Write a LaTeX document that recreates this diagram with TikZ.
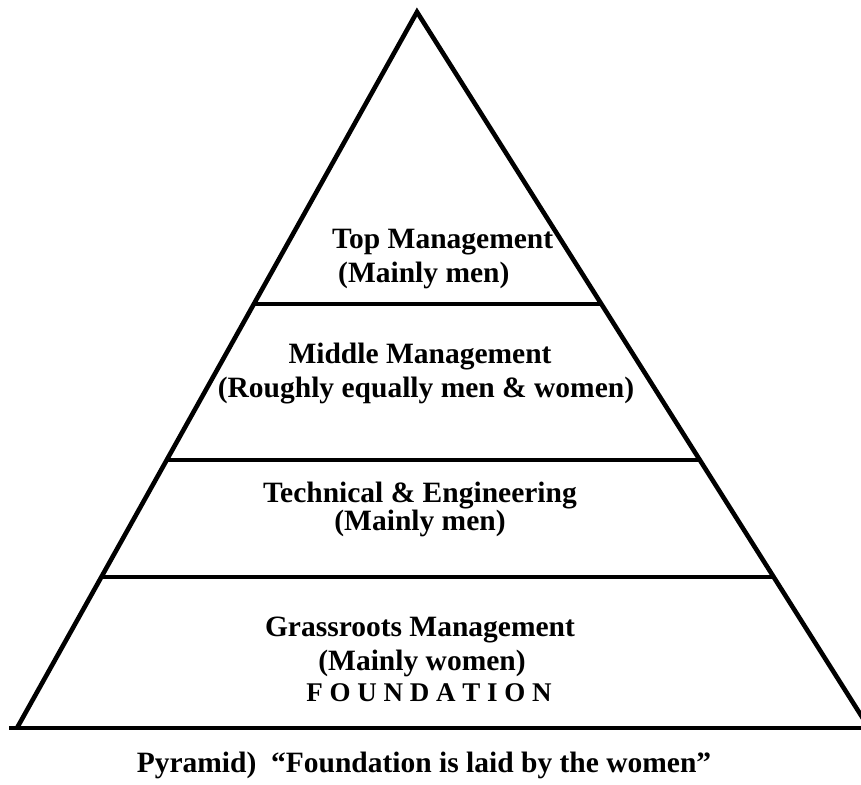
\documentclass[tikz,border=0pt]{standalone}
\usepackage{fontspec}
\setmainfont{Liberation Serif}
\usetikzlibrary{calc}
\tikzset{
  side/.style={line width=4.6pt, line join=miter, line cap=butt},
  tier/.style={line width=3.6pt, line cap=butt},
  lbl/.style={inner sep=0pt, anchor=base, font=\bfseries\fontsize{29.5}{34}\selectfont},
  lblw/.style={inner sep=0pt, anchor=base west, font=\bfseries\fontsize{29.5}{34}\selectfont},
}
\begin{document}
\begin{tikzpicture}[x=1pt,y=-1pt]
\useasboundingbox (0,0) rectangle (861,784);
\clip (0,0) rectangle (861,784);
\fill[white] (0,0) rectangle (861,784);
\coordinate (A) at (417,12);
\coordinate (BL) at (17,728);
\coordinate (BR) at (869,728);
\coordinate (B0) at (9,728);
\coordinate (B1) at (861,728);
% sides and base
\draw[side] (BL) -- (A) -- (BR);
\draw[tier] (B0) -- (B1);
% tier lines
\coordinate (L1) at ($(A)!0.4078!(BL)$);
\coordinate (R1) at ($(A)!0.4078!(BR)$);
\coordinate (L2) at ($(A)!0.6257!(BL)$);
\coordinate (R2) at ($(A)!0.6257!(BR)$);
\coordinate (L3) at ($(A)!0.7891!(BL)$);
\coordinate (R3) at ($(A)!0.7891!(BR)$);
\draw[tier] (L1) -- (R1);
\draw[tier] (L2) -- (R2);
\draw[tier] (L3) -- (R3);
% texts
\node[lblw] (t1) at (332,248) {Top Management};
\node[lblw] (t1b) at (338,282) {(Mainly men)};
\node[lbl] (t2) at (420,363) {Middle Management};
\node[lbl] (t2b) at (426,397) {(Roughly equally men \& women)};
\node[lbl] (t3) at (420,502) {Technical \& Engineering};
\node[lbl] (t3b) at (420,530) {(Mainly men)};
\node[lbl] (t4) at (420,636) {Grassroots Management};
\node[lbl] (t4b) at (422,670) {(Mainly women)};
\node[lbl, font=\bfseries\fontsize{27}{30}\selectfont] (t4c) at (429,701) {F O U N D A T I O N};
\node[lbl] (cap) at (424,772) {Pyramid)\ \ “Foundation is laid by the women”};
\end{tikzpicture}
\end{document}
